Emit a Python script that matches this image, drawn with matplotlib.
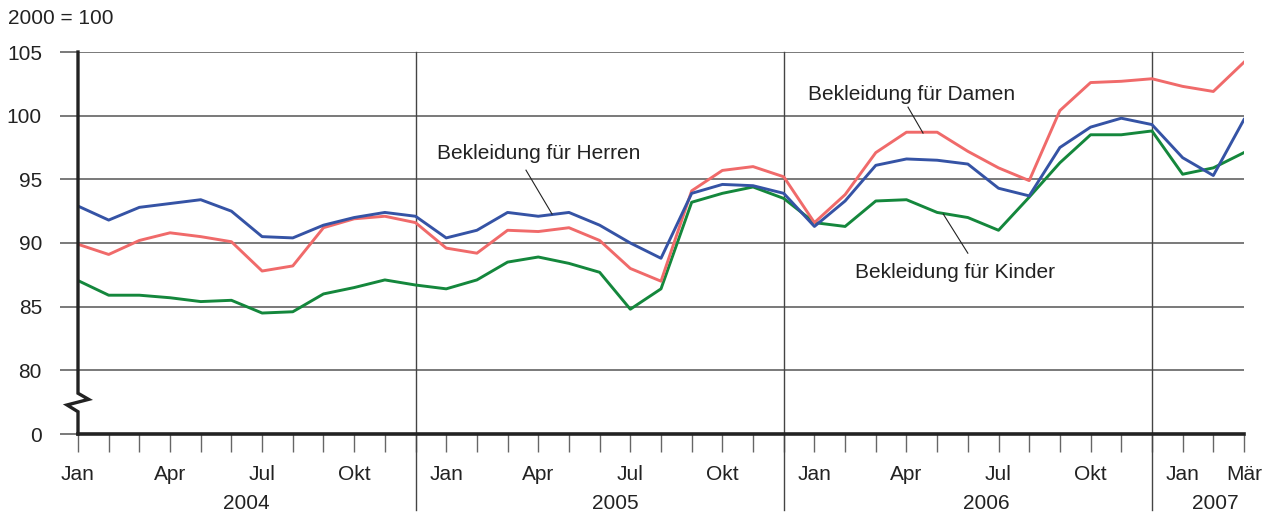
import matplotlib
matplotlib.use("Agg")
import matplotlib.pyplot as plt
from matplotlib.transforms import blended_transform_factory

# Monatswerte Jan 2004 - Mär 2007, 2000 = 100
monate = ["Jan", "Feb", "Mär", "Apr", "Mai", "Jun", "Jul", "Aug", "Sep", "Okt", "Nov", "Dez"] * 3 + ["Jan", "Feb", "Mär"]
herren = [92.9, 91.8, 92.8, 93.1, 93.4, 92.5, 90.5, 90.4, 91.4, 92.0, 92.4, 92.1,
          90.4, 91.0, 92.4, 92.1, 92.4, 91.4, 90.0, 88.8, 93.9, 94.6, 94.5, 93.9,
          91.3, 93.3, 96.1, 96.6, 96.5, 96.2, 94.3, 93.7, 97.5, 99.1, 99.8, 99.3,
          96.7, 95.3, 99.7]
damen = [89.9, 89.1, 90.2, 90.8, 90.5, 90.1, 87.8, 88.2, 91.2, 91.9, 92.1, 91.6,
         89.6, 89.2, 91.0, 90.9, 91.2, 90.2, 88.0, 87.0, 94.1, 95.7, 96.0, 95.2,
         91.6, 93.8, 97.1, 98.7, 98.7, 97.2, 95.9, 94.9, 100.4, 102.6, 102.7, 102.9,
         102.3, 101.9, 104.2]
kinder = [87.05, 85.9, 85.9, 85.7, 85.4, 85.5, 84.5, 84.6, 86.0, 86.5, 87.1, 86.7,
          86.4, 87.1, 88.5, 88.9, 88.4, 87.7, 84.8, 86.4, 93.2, 93.9, 94.4, 93.5,
          91.6, 91.3, 93.3, 93.4, 92.4, 92.0, 91.0, 93.6, 96.3, 98.5, 98.5, 98.8,
          95.4, 95.9, 97.1]

# nur jedes Quartal beschriftet
tick_labels = [m if m in ("Jan", "Apr", "Jul", "Okt") else "" for m in monate]
tick_labels[-1] = "Mär"
jahre = ["2004", "2005", "2006", "2007"]
jahr_pos = [5.5, 17.5, 29.6, 37.05]
jahr_grenzen = [11, 23, 35]
y_ticks = [75, 80, 85, 90, 95, 100, 105]
y_labels = ["0", "80", "85", "90", "95", "100", "105"]

plt.rcParams["font.family"] = ["Liberation Sans", "DejaVu Sans"]
txt = "#222222"
grid_col = "#555555"
fs = 15

fig = plt.figure(figsize=(12.74, 5.15), dpi=100)
ax = fig.add_axes([78 / 1274, 81 / 515, 1166 / 1274, 382 / 515])
x = list(range(len(monate)))

ax.plot(x, kinder, color="#14873c", lw=2.1, zorder=3)
ax.plot(x, damen, color="#f06a6a", lw=2.1, zorder=3)
ax.plot(x, herren, color="#3553a5", lw=2.1, zorder=3)

ax.set_xlim(0, len(monate) - 1)
ax.set_ylim(75, 105)

# Gitter und Achsen
ax.set_yticks(y_ticks)
ax.set_yticklabels(y_labels)
for v in y_ticks[1:]:
    ax.axhline(v, color=grid_col, lw=1.1, zorder=1)
ax.tick_params(axis="y", length=13, width=1.1, color=grid_col, pad=13, labelsize=fs, labelcolor=txt)
ax.set_xticks(x)
ax.set_xticklabels(tick_labels)
ax.tick_params(axis="x", length=13, width=1.0, color="#666666", pad=9, labelsize=fs, labelcolor=txt)

for s in ("top", "right", "left"):
    ax.spines[s].set_visible(False)
ax.spines["bottom"].set_linewidth(2.6)
ax.spines["bottom"].set_color(txt)

# linke Achse mit Achsenbruch
bt = blended_transform_factory(ax.transAxes, ax.transData)
ax.plot([0, 0, 0.0091, -0.0094, 0, 0], [105, 78.2, 77.72, 77.28, 76.75, 75],
        color=txt, lw=2.4, transform=bt, clip_on=False, zorder=4, solid_joinstyle="miter")

# Jahrestrennlinien
bt2 = blended_transform_factory(ax.transData, ax.transAxes)
for g in jahr_grenzen:
    ax.plot([g, g], [1, -0.2], color="#444444", lw=1.0, transform=bt2, clip_on=False, zorder=2)
for j, p in zip(jahre, jahr_pos):
    ax.text(p, -0.181, j, transform=bt2, ha="center", va="center", fontsize=fs, color=txt)

fig.text(8 / 1274, 1 - 19 / 515, "2000 = 100", ha="left", va="center", fontsize=fs, color=txt)

# Beschriftungen der Reihen mit Hinweislinien
ax.text(15.0, 96.25, "Bekleidung für Herren", ha="center", va="bottom", fontsize=fs, color=txt)
ax.plot([14.6, 15.45], [95.72, 92.27], color=txt, lw=0.8, zorder=4)
ax.text(27.17, 100.9, "Bekleidung für Damen", ha="center", va="bottom", fontsize=fs, color=txt)
ax.plot([27.05, 27.54], [100.67, 98.63], color=txt, lw=0.8, zorder=4)
ax.text(28.57, 88.45, "Bekleidung für Kinder", ha="center", va="top", fontsize=fs, color=txt)
ax.plot([28.2, 29.0], [92.27, 89.2], color=txt, lw=0.8, zorder=4)

plt.savefig("out.png", dpi=100)
plt.close()
